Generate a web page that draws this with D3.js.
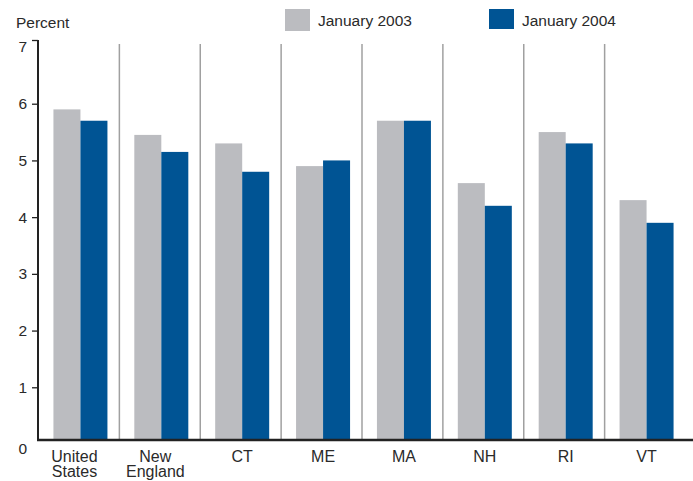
<!DOCTYPE html>
<html>
<head>
<meta charset="utf-8">
<script src="https://cdn.jsdelivr.net/npm/d3@7"></script>
<style>
  body { margin: 0; background: #fff; }
  text { font-family: "Liberation Sans", Arial, sans-serif; fill: #2a2a2a; }
</style>
</head>
<body>
<div id="chart"></div>
<script>
const categories = ["United States", "New England", "CT", "ME", "MA", "NH", "RI", "VT"];
const series = ["January 2003", "January 2004"];
const jan2003 = [5.9, 5.45, 5.3, 4.9, 5.7, 4.6, 5.5, 4.3];
const jan2004 = [5.7, 5.15, 4.8, 5.0, 5.7, 4.2, 5.3, 3.9];
const yTicks = [0, 1, 2, 3, 4, 5, 6, 7];
const colors = ["#bbbcc0", "#005494"];

const width = 693, height = 481;
const baseY = 440;

const svg = d3.select("#chart").append("svg")
    .attr("width", width)
    .attr("height", height);

const x0 = d3.scaleBand().domain(categories).range([40, 687]);
const x1 = d3.scaleBand().domain(series)
    .range([x0.bandwidth() / 2 - 27, x0.bandwidth() / 2 + 27]);
const y = d3.scaleLinear().domain([0, 7]).range([444, 47]);

//Separator lines between the groups.
svg.selectAll(".sep")
    .data(categories.slice(1))
    .enter()
    .append("line")
    .attr("class", "sep")
    .attr("x1", d => x0(d) - 1.5)
    .attr("x2", d => x0(d) - 1.5)
    .attr("y1", y(7) - 3)
    .attr("y2", baseY)
    .attr("stroke", "#a0a0a0")
    .attr("stroke-width", 1.5);

//Bars.
const rows = categories.map((c, i) => ({cat: c, vals: [jan2003[i], jan2004[i]]}));
const groups = svg.selectAll(".grp")
    .data(rows)
    .enter()
    .append("g")
    .attr("transform", d => "translate(" + x0(d.cat) + ",0)");

groups.selectAll("rect")
    .data(d => d.vals.map((v, j) => ({s: series[j], v: v, j: j})))
    .enter()
    .append("rect")
    .attr("x", d => x1(d.s))
    .attr("width", x1.bandwidth())
    .attr("y", d => y(d.v))
    .attr("height", d => baseY - y(d.v))
    .attr("fill", d => colors[d.j]);

//Y axis.
const yAxis = svg.append("g")
    .attr("transform", "translate(38,0)")
    .call(d3.axisLeft(y).tickValues(yTicks).tickSize(6).tickPadding(5).tickFormat(d3.format("d")));
yAxis.select(".domain").remove();
yAxis.selectAll(".tick line").attr("stroke", "#222").attr("stroke-width", 1.3);
yAxis.selectAll(".tick").filter(d => d === 0).select("line").remove();
yAxis.selectAll(".tick").filter(d => d === 7).select("line").attr("transform", "translate(0," + (40 - y(7)) + ")");
yAxis.selectAll("text")
    .style("font-size", "15.5px")
    .attr("fill", "#2a2a2a");
yAxis.selectAll(".tick").filter(d => d === 0).select("text").attr("dy", "0.6em");

svg.append("line")
    .attr("x1", 38).attr("x2", 38)
    .attr("y1", 40).attr("y2", baseY + 1)
    .attr("stroke", "#222").attr("stroke-width", 2);

svg.append("line")
    .attr("x1", 37).attr("x2", width)
    .attr("y1", baseY).attr("y2", baseY)
    .attr("stroke", "#222").attr("stroke-width", 2.5);

//Category labels.
const labels = svg.selectAll(".cat")
    .data(categories)
    .enter()
    .append("text")
    .attr("class", "cat")
    .attr("text-anchor", "middle")
    .style("font-size", "16px")
    .attr("transform", d => "translate(" + (x0(d) + x0.bandwidth() / 2 + (d.includes(" ") ? -6 : 0)) + ",462)");
labels.selectAll("tspan")
    .data(d => d.split(" "))
    .enter()
    .append("tspan")
    .attr("x", 0)
    .attr("dy", (d, i) => i === 0 ? 0 : 15)
    .text(d => d);

svg.append("text")
    .attr("x", 16)
    .attr("y", 28)
    .style("font-size", "15.5px")
    .text("Percent");

//Legend.
const legendX = [285, 489];
const legend = svg.selectAll(".leg")
    .data(series)
    .enter()
    .append("g")
    .attr("transform", (d, i) => "translate(" + legendX[i] + ",9)");
legend.append("rect")
    .attr("width", 25)
    .attr("height", (d, i) => i === 0 ? 22 : 20)
    .attr("fill", (d, i) => colors[i]);
legend.append("text")
    .attr("x", 33)
    .attr("y", 17)
    .style("font-size", "15.5px")
    .text(d => d);
</script>
</body>
</html>
